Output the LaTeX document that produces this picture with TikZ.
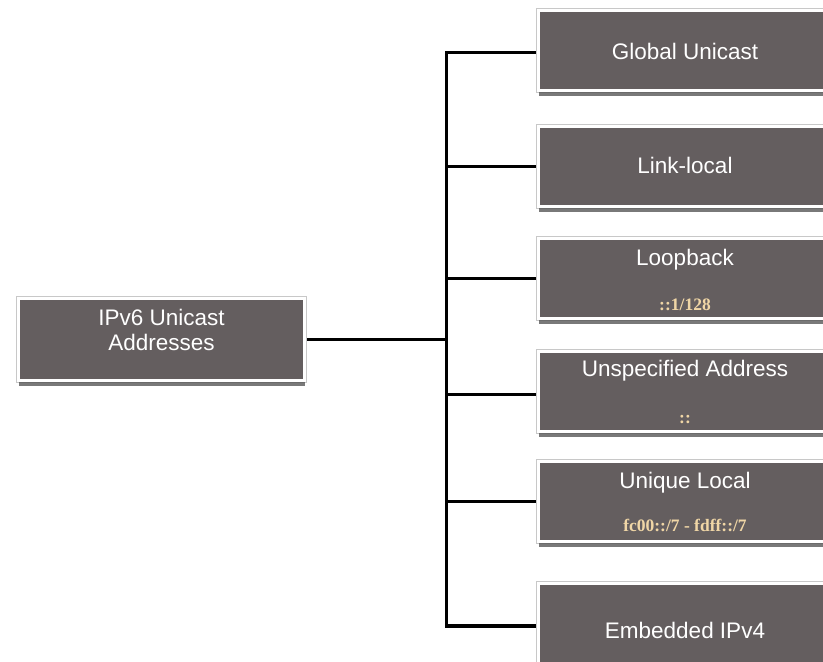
\documentclass[tikz,border=0pt]{standalone}
\usepackage{fontspec}
\setmainfont{Liberation Sans}
\newfontfamily\subfont{Liberation Serif}
\usetikzlibrary{shadows,backgrounds}

\definecolor{boxgray}{RGB}{100,94,95}
\definecolor{addrtan}{RGB}{240,214,166}
\definecolor{rimgray}{RGB}{200,200,200}

\tikzset{
  card/.style={
    rectangle, fill=boxgray, draw=white, line width=3pt,
    preaction={draw=rimgray, line width=4.5pt},
    drop shadow={shadow xshift=0.5pt, shadow yshift=-5pt, fill=black!70, opacity=0.75},
    minimum height=80pt, inner sep=0pt},
  leafcard/.style={card, minimum width=293pt},
  title/.style={anchor=base, inner sep=0pt, text=white,
    font=\fontsize{22.5}{27}\selectfont},
  addr/.style={anchor=base, inner sep=0pt, text=addrtan,
    font=\subfont\bfseries\fontsize{17.5}{20}\selectfont},
  conn/.style={draw=black, line width=3.2pt, line join=miter}
}

\begin{document}
\begin{tikzpicture}[x=1pt, y=-1pt]
  \useasboundingbox (0,0) rectangle (823,662);
  \clip (0,0) rectangle (823,662);

  % root card
  \node[card, minimum width=286pt, minimum height=82pt] (root) at (161.5,339.5) {};
  \node[title] (rootA) at (161.5,325) {IPv6 Unicast};
  \node[title] (rootB) at (161.5,350) {Addresses};

  % leaf cards
  \node[leafcard] (gu) at (685,50.5)  {};
  \node[leafcard] (ll) at (685,166.5) {};
  \node[leafcard] (lb) at (685,278.5) {};
  \node[leafcard] (us) at (685,391.5) {};
  \node[leafcard] (ul) at (685,501.5) {};
  \node[leafcard] (em) at (685,623)   {};

  \node[title] (guT) at (685,59.5) {Global Unicast};
  \node[title] (llT) at (685,173)  {Link-local};
  \node[title] (lbT) at (685,265)  {Loopback};
  \node[addr]  (lbA) at (685,310)  {::1/128};
  \node[title] (usT) at (685,376.5) {Unspecified Address};
  \node[addr]  (usA) at (685,423)  {::};
  \node[title] (ulT) at (685,488)  {Unique Local};
  \node[addr]  (ulA) at (685,531)  {fc00::/7 - fdff::/7};
  \node[title] (emT) at (685,638)  {Embedded IPv4};

  % tree connectors
  \coordinate (trunk) at (446.5,0);
  \begin{scope}[on background layer]
    \draw[conn] ([yshift=-2pt]gu.west) -- ([yshift=-2pt]gu.west -| trunk)
                -- ([yshift=-3pt]em.west -| trunk) -- ([yshift=-3pt]em.west);
    \draw[conn] (root.east) -- (root.east -| trunk);
    \draw[conn] (ll.west) -- (ll.west -| trunk);
    \draw[conn] (lb.west) -- (lb.west -| trunk);
    \draw[conn] ([yshift=-3pt]us.west) -- ([yshift=-3pt]us.west -| trunk);
    \draw[conn] (ul.west) -- (ul.west -| trunk);
  \end{scope}
\end{tikzpicture}
\end{document}
